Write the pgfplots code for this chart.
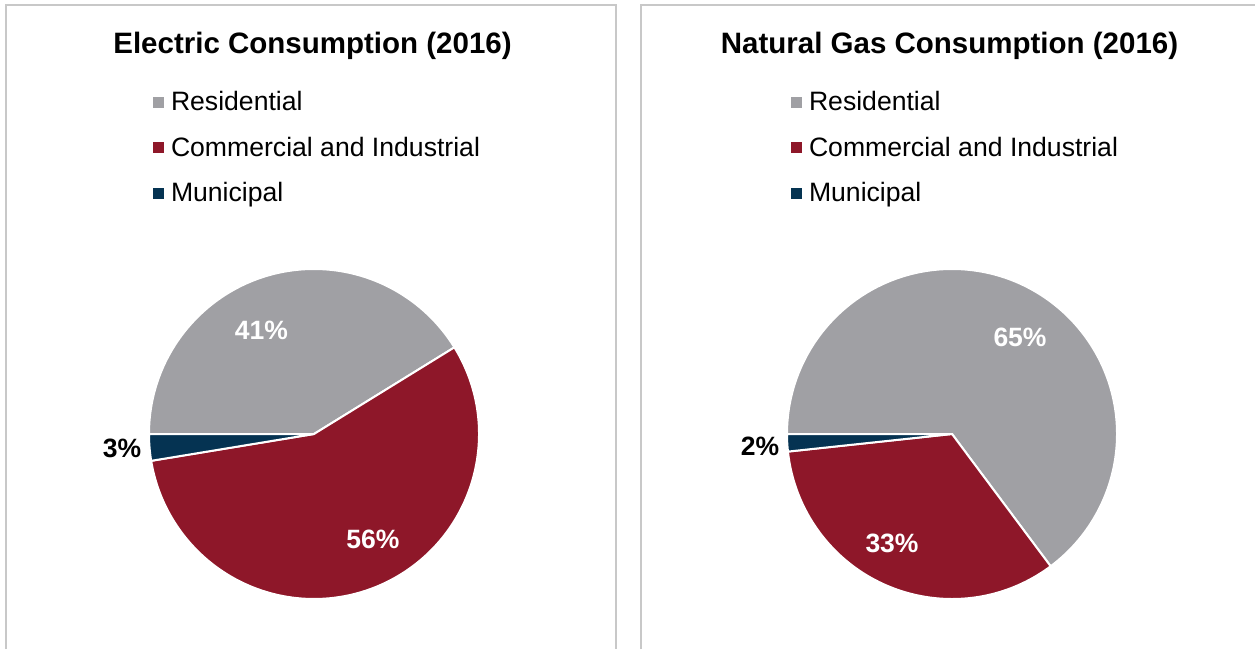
\documentclass[border=0pt]{standalone}
\usepackage{pgfplots}
\usepackage{pgfplotstable}
\pgfplotsset{compat=1.18}
\usepackage{fontspec}
\setmainfont{Liberation Sans}
\definecolor{resgray}{RGB}{160,160,164}
\definecolor{cired}{RGB}{142,23,41}
\definecolor{munnavy}{RGB}{5,51,82}
\definecolor{panelgray}{RGB}{200,200,200}

\pgfplotstableread{
sector value color
Residential 41.2 resgray
Commercial 56.2 cired
Municipal 2.6 munnavy
}\electric
\pgfplotstableread{
sector value color
Residential 64.8 resgray
Commercial 33.5 cired
Municipal 1.7 munnavy
}\gas

\newcommand{\drawpie}[3]{%
  \def\cumul{180}%
  \pgfplotsforeachungrouped \i in {0,1,2}{%
    \pgfplotstablegetelem{\i}{value}\of{#3}\let\val=\pgfplotsretval
    \pgfplotstablegetelem{\i}{color}\of{#3}\let\col=\pgfplotsretval
    \pgfmathsetmacro\endang{\cumul-3.6*\val}%
    \edef\temp{\noexpand\filldraw[fill=\col, draw=white, line width=2pt, line join=round] (axis cs:#1,#2) -- ([shift={(\cumul:165pt)}]axis cs:#1,#2) arc[start angle=\cumul, end angle=\endang, radius=165pt] -- cycle;}%
    \temp
    \let\cumul=\endang
  }%
}

\pgfplotsset{panel/.style={
  at={(0,0)}, anchor=south west,
  scale only axis, width=1255pt, height=649pt,
  xmin=0, xmax=1255, ymin=0, ymax=649,
  hide axis, clip=false,
  legend cell align=left,
  legend image code/.code={\fill[##1, draw=none] (0pt,3pt) rectangle (11pt,14pt);},
  legend style={draw=none, fill=none, inner sep=0pt, outer sep=0pt,
    font=\fontsize{26.6}{31}\selectfont, row sep=20.5pt, column sep=7pt,
    nodes={inner sep=0pt, text height=19pt, text depth=6pt, anchor=base west}},
}}

\begin{document}
\begin{tikzpicture}
\begin{axis}[panel, legend style={at={(axis cs:153,557)}, anchor=north west}]
  \draw[panelgray, line width=2pt] (axis cs:6,0) -- (axis cs:6,644) -- (axis cs:616,644) -- (axis cs:616,0);
  \addlegendimage{fill=resgray}\addlegendentry{Residential}
  \addlegendimage{fill=cired}\addlegendentry{Commercial and Industrial}
  \addlegendimage{fill=munnavy}\addlegendentry{Municipal}
  \drawpie{314}{215}{\electric}
  \node[anchor=base, font=\fontsize{29.5}{35}\selectfont\bfseries] at (axis cs:312.5,595.7) {Electric Consumption (2016)};
  \node[font=\fontsize{26.5}{31}\selectfont\bfseries, text=white] at (axis cs:261.5,319) {41\%};
  \node[font=\fontsize{26.5}{31}\selectfont\bfseries, text=white] at (axis cs:373,110) {56\%};
  \node[font=\fontsize{26.5}{31}\selectfont\bfseries, text=black] at (axis cs:122,201) {3\%};
\end{axis}
\begin{axis}[panel, legend style={at={(axis cs:791,557)}, anchor=north west}]
  \draw[panelgray, line width=2pt] (axis cs:641,0) -- (axis cs:641,644) -- (axis cs:1255,644);
  \addlegendimage{fill=resgray}\addlegendentry{Residential}
  \addlegendimage{fill=cired}\addlegendentry{Commercial and Industrial}
  \addlegendimage{fill=munnavy}\addlegendentry{Municipal}
  \drawpie{952}{215}{\gas}
  \node[anchor=base, font=\fontsize{29.5}{35}\selectfont\bfseries] at (axis cs:949.5,595.7) {Natural Gas Consumption (2016)};
  \node[font=\fontsize{26.5}{31}\selectfont\bfseries, text=white] at (axis cs:1020,312) {65\%};
  \node[font=\fontsize{26.5}{31}\selectfont\bfseries, text=white] at (axis cs:892,106) {33\%};
  \node[font=\fontsize{26.5}{31}\selectfont\bfseries, text=black] at (axis cs:760,203) {2\%};
\end{axis}
\pgfresetboundingbox
\path (0,0) rectangle (1255pt,649pt);
\end{tikzpicture}
\end{document}
